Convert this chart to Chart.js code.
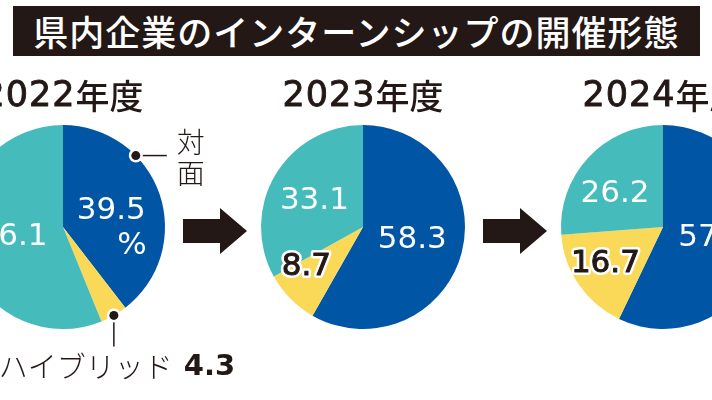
<!DOCTYPE html>
<html lang="ja">
<head>
<meta charset="utf-8">
<script src="https://cdn.jsdelivr.net/npm/chart.js@4.4.1/dist/chart.umd.min.js"></script>
<style>
html, body { margin: 0; padding: 0; background: #fff; }
body { width: 712px; height: 400px; position: relative; overflow: hidden; font-family: "Noto Sans CJK JP", sans-serif; }
.title { position: absolute; left: 13px; top: 6px; width: 687px; height: 50px; background: #231815; color: #fff;
  font-size: 35px; line-height: 50px; text-align: center; letter-spacing: 1px; font-weight: 500; }
canvas { position: absolute; top: 60px; }
.arrow { position: absolute; top: 208px; width: 64px; height: 46px; background: #231815;
  clip-path: polygon(0 11px, 37px 11px, 37px 0, 64px 23px, 37px 46px, 37px 35px, 0 35px); }
</style>
</head>
<body>
<div class="title">県内企業のインターンシップの開催形態</div>
<div class="arrow" style="left:183px"></div>
<div class="arrow" style="left:483px"></div>
<canvas id="pie2022" width="400" height="340" style="left:-137px"></canvas>
<canvas id="pie2023" width="400" height="340" style="left:163px"></canvas>
<canvas id="pie2024" width="400" height="340" style="left:463px"></canvas>
<script>
// 開催形態（%）
var categories = ['対面', 'ハイブリッド', 'オンライン'];
var years = ['2022年度', '2023年度', '2024年度'];
var values2022 = [39.5, 4.3, 56.1];
var values2023 = [58.3, 8.7, 33.1];
var values2024 = [57.1, 16.7, 26.2];

var ink = '#231815';
var colors = ['#0055a5', '#f9d957', '#45bbbc'];
var numFont = "31px 'DejaVu Sans', 'Noto Sans CJK JP'";

function edgePoint(p, t) {
    var a = p.startAngle + (p.endAngle - p.startAngle) * t;
    return { x: p.x + Math.cos(a) * p.outerRadius, y: p.y + Math.sin(a) * p.outerRadius };
}

function dot(ctx, x, y) {
    ctx.fillStyle = '#fff';
    ctx.beginPath(); ctx.arc(x, y, 7, 0, Math.PI * 2); ctx.fill();
    ctx.fillStyle = ink;
    ctx.beginPath(); ctx.arc(x, y, 4.5, 0, Math.PI * 2); ctx.fill();
}

// 「2023」+「年度」を別フォントで並べる
function drawYear(ctx, text, cx, cy) {
    var digits = text.replace(/[^0-9]/g, '');
    var rest = text.replace(/[0-9]/g, '');
    var dFont = "35px 'DejaVu Sans'";
    var jFont = "500 34px 'Noto Sans CJK JP'";
    ctx.font = dFont;
    ctx.letterSpacing = '1px';
    var dw = ctx.measureText(digits).width;
    ctx.letterSpacing = '0px';
    ctx.font = jFont;
    var jw = ctx.measureText(rest).width;
    var x0 = cx - (dw + jw) / 2;
    ctx.textAlign = 'left';
    ctx.fillStyle = ink;
    ctx.strokeStyle = ink;
    ctx.lineWidth = 0.9;
    ctx.font = dFont;
    ctx.letterSpacing = '1px';
    ctx.fillText(digits, x0, cy);
    ctx.strokeText(digits, x0, cy);
    ctx.letterSpacing = '0px';
    ctx.font = jFont;
    ctx.fillText(rest, x0 + dw, cy - 1);
    ctx.textAlign = 'center';
}

var pieLabels = {
    id: 'pieLabels',
    afterDatasetsDraw: function (chart, args, opts) {
        var ctx = chart.ctx;
        var arcs = chart.getDatasetMeta(0).data;
        var values = chart.data.datasets[0].data;
        ctx.save();
        ctx.textAlign = 'center';
        ctx.textBaseline = 'middle';

        drawYear(ctx, opts.year, chart.width / 2, 37);

        arcs.forEach(function (arc, i) {
            if (!opts.place[i]) return;
            var p = arc.getProps(['x', 'y', 'startAngle', 'endAngle', 'outerRadius'], true);
            var t = opts.at ? opts.at[i] : 0.5;
            var ang = p.startAngle + (p.endAngle - p.startAngle) * t;
            var r = p.outerRadius * opts.place[i];
            var x = p.x + Math.cos(ang) * r;
            var y = p.y + Math.sin(ang) * r;
            var txt = values[i].toFixed(1);
            ctx.font = numFont;
            if (opts.dark[i]) {
                ctx.lineJoin = 'round';
                ctx.lineWidth = 6;
                ctx.strokeStyle = '#fff';
                ctx.strokeText(txt, x, y);
                ctx.fillStyle = ink;
                ctx.strokeStyle = ink;
                ctx.lineWidth = 1;
                ctx.strokeText(txt, x, y);
            } else {
                ctx.fillStyle = '#fff';
            }
            ctx.fillText(txt, x, y);
            if (opts.percentOn === i) {
                var w = ctx.measureText(txt).width;
                ctx.textAlign = 'right';
                ctx.fillText('%', x + w / 2 + 1, y + 35);
                ctx.textAlign = 'center';
            }
        });

        if (opts.callouts) {
            var face = arcs[0].getProps(['x', 'y', 'startAngle', 'endAngle', 'outerRadius'], true);
            var hyb = arcs[1].getProps(['x', 'y', 'startAngle', 'endAngle', 'outerRadius'], true);
            ctx.strokeStyle = ink;
            ctx.lineWidth = 1.5;

            // 対面
            var a = edgePoint(face, 0.32);
            ctx.beginPath(); ctx.moveTo(a.x, a.y); ctx.lineTo(a.x + 31, a.y); ctx.stroke();
            dot(ctx, a.x, a.y);
            ctx.fillStyle = ink;
            ctx.font = "300 28px 'Noto Sans CJK JP'";
            ctx.fillText(categories[0].charAt(0), a.x + 55, a.y - 13);
            ctx.fillText(categories[0].charAt(1), a.x + 55, a.y + 18);

            // ハイブリッド
            var b = edgePoint(hyb, 0.5);
            ctx.beginPath(); ctx.moveTo(b.x, b.y); ctx.lineTo(b.x, b.y + 31); ctx.stroke();
            dot(ctx, b.x, b.y);
            ctx.fillStyle = ink;
            ctx.font = "300 29px 'Noto Sans CJK JP'";
            ctx.textAlign = 'right';
            ctx.fillText(categories[1], b.x + 59, b.y + 52);
            ctx.font = "bold 29px 'DejaVu Sans'";
            ctx.textAlign = 'left';
            ctx.fillText(values[1].toFixed(1), b.x + 70, b.y + 52);
        }
        ctx.restore();
    }
};

function makePie(id, year, values, labelOpts) {
    labelOpts.year = year;
    return new Chart(document.getElementById(id), {
        type: 'pie',
        data: {
            labels: categories,
            datasets: [{
                data: values,
                backgroundColor: colors,
                borderWidth: 0
            }]
        },
        options: {
            responsive: false,
            animation: false,
            layout: { padding: { left: 98, right: 98, top: 65, bottom: 71 } },
            plugins: {
                legend: { display: false },
                tooltip: { enabled: false },
                pieLabels: labelOpts
            }
        },
        plugins: [pieLabels]
    });
}

makePie('pie2022', years[0], values2022, {
    place: [0.5, null, 0.5], dark: [false, false, false], percentOn: 0, callouts: true
});
makePie('pie2023', years[1], values2023, {
    place: [0.5, 0.68, 0.54], at: [0.5, 0.8, 0.48], dark: [false, true, false]
});
makePie('pie2024', years[2], values2024, {
    place: [0.5, 0.67, 0.57], at: [0.5, 0.53, 0.41], dark: [false, true, false]
});
</script>
</body>
</html>
